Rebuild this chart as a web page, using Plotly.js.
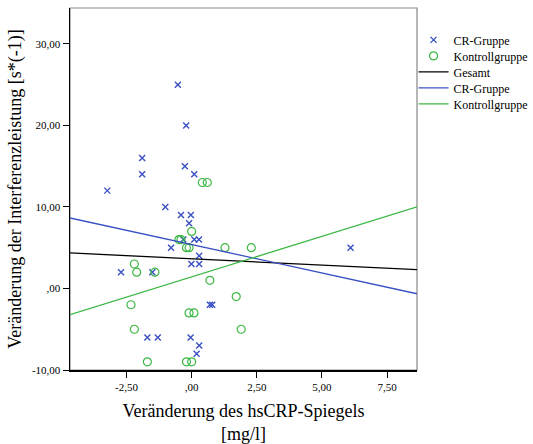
<!DOCTYPE html>
<html><head><meta charset="utf-8">
<script src="https://cdn.plot.ly/plotly-3.0.1.min.js"></script>
<style>html,body{margin:0;padding:0;background:#fff}#c{width:533px;height:444px}</style>
</head><body><div id="c"></div>
<script>
// CR-Gruppe (Veränderung hsCRP, Veränderung Interferenzleistung)
const crX = [-0.53,-0.21,-1.9,-0.26,-1.9,0.1,-3.24,-1.01,-0.41,-0.03,-0.1,-0.32,0.1,0.28,-0.79,0.29,-0.01,0.29,-2.71,-1.51,0.70,0.79,-1.7,-1.3,-0.04,0.29,0.19,6.1];
const crY = [25,20,16,15,14,14,12,10,9,9,8,6,6,6,5,4,3,3,2,2,-2,-2,-6,-6,-6,-7,-8,5];
// Kontrollgruppe
const koX = [0.41,0.6,0,-0.49,-0.41,-0.2,-0.1,1.28,2.29,-2.2,-2.11,-1.41,0.7,1.71,-2.33,-0.1,0.09,-2.2,1.9,-1.7,-0.2,0];
const koY = [13,13,7,6,6,5,5,5,5,3,2,2,1,-1,-2,-3,-3,-5,-5,-9,-9,-9];
const xTickVals = [-2.5,0,2.5,5,7.5];
const xTickText = ["-2,50",",00","2,50","5,00","7,50"];
const yTickVals = [-10,0,10,20,30];
const yTickText = ["-10,00",",00","10,00","20,00","30,00"];
const xRange = [-4.67, 8.65];
const yRange = [-10, 34.4];

function fit(xs, ys){
  const n = xs.length;
  const mx = xs.reduce((a,b)=>a+b,0)/n, my = ys.reduce((a,b)=>a+b,0)/n;
  let sxy=0,sxx=0;
  for(let i=0;i<n;i++){sxy+=(xs[i]-mx)*(ys[i]-my);sxx+=(xs[i]-mx)**2;}
  const b = sxy/sxx, a = my-b*mx;
  return {x:[xRange[0],xRange[1]], y:[a+b*xRange[0], a+b*xRange[1]]};
}
const fAll = fit(crX.concat(koX), crY.concat(koY));
const fCR = fit(crX, crY);
const fKO = fit(koX, koY);

const blue = '#3a50c4', green = '#3cb844';
const serif = '"Liberation Serif", "Times New Roman", serif';
const traces = [
  {x:crX,y:crY,mode:'markers',type:'scatter',name:'CR-Gruppe',
   marker:{symbol:'x-thin-open',size:6,color:blue,line:{color:blue,width:1.4}}},
  {x:koX,y:koY,mode:'markers',type:'scatter',name:'Kontrollgruppe',
   marker:{symbol:'circle-open',size:8,color:green,line:{color:green,width:1.2}}},
  {x:fAll.x,y:fAll.y,mode:'lines',type:'scatter',name:'Gesamt',line:{color:'#000',width:1.3}},
  {x:fCR.x,y:fCR.y,mode:'lines',type:'scatter',name:'CR-Gruppe',line:{color:blue,width:1.3}},
  {x:fKO.x,y:fKO.y,mode:'lines',type:'scatter',name:'Kontrollgruppe',line:{color:green,width:1.3}}
];
const layout = {
  width:533,height:444,
  margin:{l:70,r:116,t:8,b:74,autoexpand:false},
  paper_bgcolor:'#fff',plot_bgcolor:'#fff',
  font:{family:serif,color:'#000',size:11},
  showlegend:true,
  legend:{x:0.99,y:0.952,xanchor:'left',yanchor:'top',font:{family:serif,size:12,color:'#000'},
    bgcolor:'rgba(0,0,0,0)',tracegroupgap:0,itemwidth:30},
  xaxis:{range:xRange,showgrid:false,zeroline:false,showline:true,linecolor:'#000',linewidth:1.5,
    ticks:'outside',ticklen:6,tickcolor:'#000',tickvals:xTickVals,ticktext:xTickText,
    tickfont:{family:serif,size:11,color:'#000'},
    title:{text:'Veränderung des hsCRP-Spiegels<br>[mg/l]',font:{family:serif,size:18},standoff:12}},
  yaxis:{range:yRange,showgrid:false,zeroline:false,showline:true,linecolor:'#000',linewidth:1.5,
    ticks:'outside',ticklen:6,tickcolor:'#000',tickvals:yTickVals,ticktext:yTickText,
    tickfont:{family:serif,size:11,color:'#000'},
    title:{text:'Veränderung der Interferenzleistung [s*(-1)]',font:{family:serif,size:18},standoff:5}},
  shapes:[{type:'rect',xref:'paper',yref:'paper',x0:0,x1:1,y0:0,y1:1,line:{color:'#888',width:1.2},fillcolor:'rgba(0,0,0,0)',layer:'below'}]
};
Plotly.newPlot('c',traces,layout,{displayModeBar:false,staticPlot:true}).then(()=>{
  // tighten legend row spacing to match reference
  const items = document.querySelectorAll('.legend .traces');
  items.forEach((g,i)=>{ g.setAttribute('transform','translate(0,'+(14.5+i*16)+')'); });
});
</script></body></html>
